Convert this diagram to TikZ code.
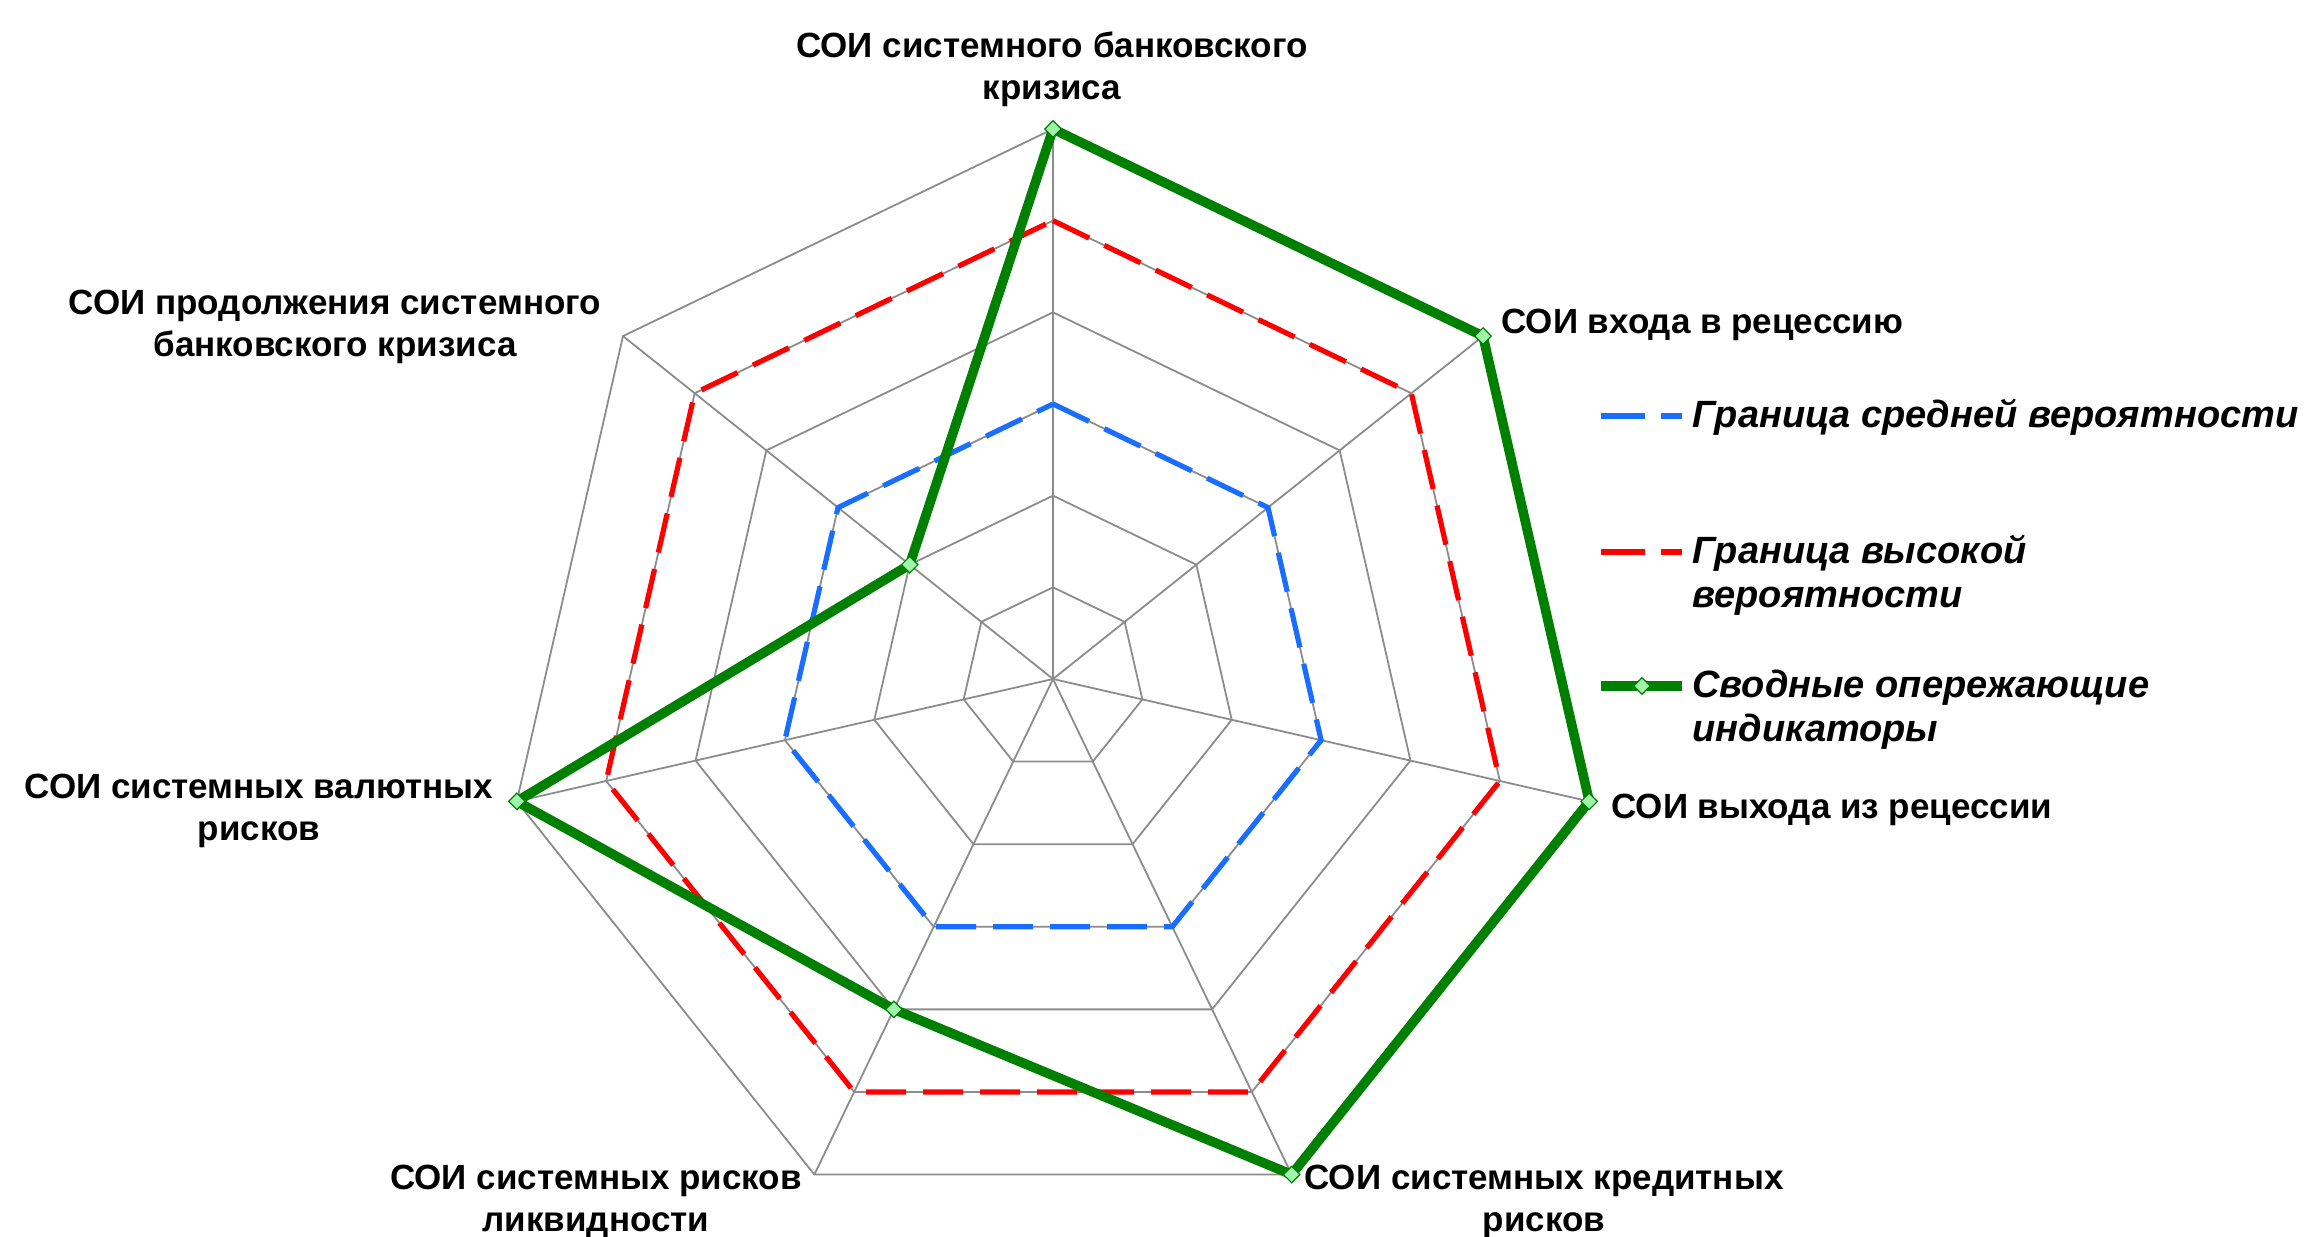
\documentclass[tikz,border=0pt]{standalone}
\usepackage{fontspec}
\setmainfont{Liberation Sans}
\usetikzlibrary{shapes.geometric}
\definecolor{gridgray}{RGB}{140,140,140}
\definecolor{midblue}{RGB}{25,110,255}
\definecolor{hired}{RGB}{255,0,0}
\definecolor{sumgreen}{RGB}{0,128,0}
\definecolor{mint}{RGB}{160,245,170}
\tikzset{
  gridline/.style={draw=gridgray, line width=0.9pt, line join=miter},
  bluebound/.style={draw=midblue, line width=2.6pt, dash pattern=on 20pt off 8.5pt},
  redbound/.style={draw=hired, line width=2.6pt, dash pattern=on 20pt off 8.5pt},
  greenline/.style={draw=sumgreen, line width=4.8pt, line join=round},
  gmark/.style={diamond, draw=sumgreen, fill=mint, line width=0.6pt, inner sep=0pt, minimum size=8.5pt},
  lbl/.style={inner sep=0pt, font=\bfseries\fontsize{17.5}{21}\selectfont, align=center},
  leg/.style={inner sep=0pt, font=\bfseries\itshape\fontsize{19}{22}\selectfont, align=left, anchor=west},
}
\begin{document}
\begin{tikzpicture}[x=0.5pt, y=-0.5pt]
\useasboundingbox (0,0) rectangle (2304,1237);
\coordinate (c) at (1053,679);
\foreach \k in {0,...,6} {
  \foreach \l in {1,...,6} {
    \coordinate (p\k-\l) at ({1053 + \l*91.67*sin(\k*360/7)}, {679 - \l*91.67*cos(\k*360/7)});
  }
}
% grid rings
\foreach \l in {1,...,6} {
  \draw[gridline] (p0-\l) -- (p1-\l) -- (p2-\l) -- (p3-\l) -- (p4-\l) -- (p5-\l) -- (p6-\l) -- cycle;
}
% spokes
\foreach \k in {0,...,6} { \draw[gridline] (c) -- (p\k-6); }
% bounds
\draw[bluebound] (p0-3) -- (p1-3) -- (p2-3) -- (p3-3) -- (p4-3) -- (p5-3) -- (p6-3) -- cycle;
\draw[redbound] (p0-5) -- (p1-5) -- (p2-5) -- (p3-5) -- (p4-5) -- (p5-5) -- (p6-5) -- cycle;
% indicators
\draw[greenline] (p0-6) -- (p1-6) -- (p2-6) -- (p3-6) -- (p4-4) -- (p5-6) -- (p6-2) -- cycle;
\foreach \k/\v in {0/6,1/6,2/6,3/6,4/4,5/6,6/2} { \node[gmark] (m\k) at (p\k-\v) {}; }
% axis labels
\node[lbl] (l0) at (1052,69) {СОИ системного банковского\\кризиса};
\node[lbl, anchor=west] (l1) at (1501,325) {СОИ входа в рецессию};
\node[lbl, anchor=west] (l2) at (1611,810) {СОИ выхода из рецессии};
\node[lbl] (l3) at (1544,1202) {СОИ системных кредитных\\рисков};
\node[lbl] (l4) at (596,1202) {СОИ системных рисков\\ликвидности};
\node[lbl] (l5) at (259,811) {СОИ системных валютных\\рисков};
\node[lbl] (l6) at (335,327) {СОИ продолжения системного\\банковского кризиса};
% legend
\coordinate (lb1) at (1601,416); \coordinate (lb2) at (1682,416);
\draw[draw=midblue, line width=2.6pt, dash pattern=on 22pt off 8pt] (lb1) -- (lb2);
\node[leg] (tb) at (1692,417) {Граница средней вероятности};
\coordinate (lr1) at (1601,552); \coordinate (lr2) at (1682,552);
\draw[draw=hired, line width=2.6pt, dash pattern=on 22pt off 8pt] (lr1) -- (lr2);
\node[leg] (tr) at (1692,575) {Граница высокой\\вероятности};
\coordinate (lg1) at (1601,686); \coordinate (lg2) at (1682,686);
\draw[greenline] (lg1) -- (lg2);
\node[gmark] (lgm) at (1642,686) {};
\node[leg] (tg) at (1692,710) {Сводные опережающие\\индикаторы};
\end{tikzpicture}
\end{document}
